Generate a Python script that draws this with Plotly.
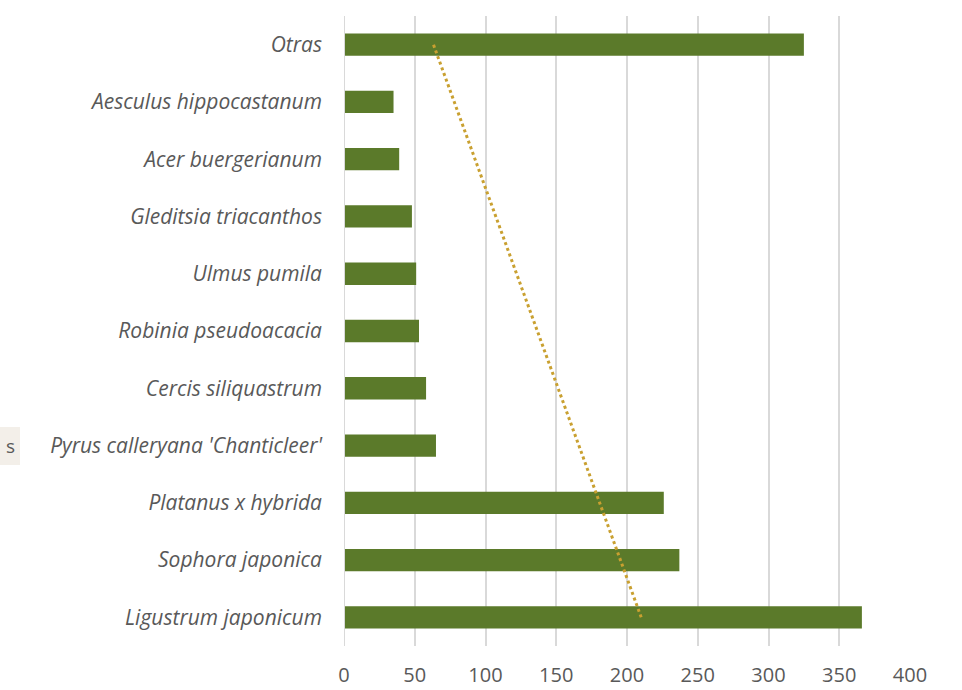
import numpy as np
import plotly.graph_objects as go

species = ["Ligustrum japonicum", "Sophora japonica", "Platanus x hybrida",
           "Pyrus calleryana 'Chanticleer'", "Cercis siliquastrum", "Robinia pseudoacacia",
           "Ulmus pumila", "Gleditsia triacanthos", "Acer buergerianum",
           "Aesculus hippocastanum", "Otras"]
counts = [366, 237, 226, 65, 58, 53, 51, 48, 39, 35, 325]
x_ticks = [0, 50, 100, 150, 200, 250, 300, 350, 400]

# linear trendline over category index (as in the spreadsheet)
idx = np.arange(1, len(counts) + 1)
slope, intercept = np.polyfit(idx, counts, 1)
trend = slope * idx + intercept

fig = go.Figure()
fig.add_trace(go.Bar(y=species, x=counts, orientation="h",
                     marker=dict(color="#5B7A2A", line=dict(width=0)),
                     showlegend=False))
fig.add_trace(go.Scatter(y=species, x=trend, mode="lines",
                         line=dict(color="#C9A030", width=3, dash="dot"),
                         showlegend=False))

fig.update_layout(
    width=962, height=690,
    margin=dict(l=344, r=52, t=16, b=44),
    plot_bgcolor="white", paper_bgcolor="white",
    bargap=0.61,
    font=dict(family="Open Sans, sans-serif", color="#595959", size=18),
    xaxis=dict(range=[0, 400], tickvals=x_ticks, showgrid=True,
               gridcolor="#D9D9D9", gridwidth=2, zeroline=False,
               showline=False, ticks="", ticklabelstandoff=15, automargin=False,
               tickfont=dict(size=20, color="#595959")),
    yaxis=dict(categoryorder="array", categoryarray=species, range=[-0.5, 10.5],
               showgrid=False, zeroline=False, showline=False, ticks="",
               ticklabelstandoff=21, automargin=False,
               tickfont=dict(size=21, color="#595959", style="italic")),
    shapes=[dict(type="line", xref="x", yref="paper", x0=0, x1=0, y0=0, y1=1,
                 line=dict(color="#D9D9D9", width=2)),
            dict(type="rect", xref="paper", yref="paper",
                 x0=-344/566, x1=(20-344)/566, y0=(690-44-465)/630, y1=(690-44-427)/630,
                 fillcolor="#F3EFE9", line=dict(width=0), layer="below")],
    annotations=[dict(xref="paper", yref="paper", x=(4-344)/566, y=(690-44-446)/630,
                      text="s", showarrow=False, xanchor="left", yanchor="middle",
                      font=dict(size=19, color="#595959"))],
)

fig.write_html("out.html", config={"displayModeBar": False},
               post_script="document.body.style.margin='0';")
